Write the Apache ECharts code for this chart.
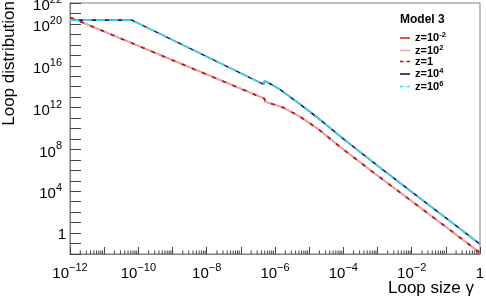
<!DOCTYPE html>
<html>
<head>
<meta charset="utf-8">
<title>Loop distribution</title>
<script src="https://cdn.jsdelivr.net/npm/echarts@6/dist/echarts.min.js"></script>
<style>
html, body { margin: 0; padding: 0; background: #fff; }
#chart { width: 486px; height: 306px; }
</style>
</head>
<body>
<div id="chart"></div>
<script>
// loop size gamma / loop distribution
// upper curve (z=10^4, z=10^6 lie on top of each other)
var gammaHigh = [1e-12, 6.46e-11, 4.68e-7, 4.90e-7, 7.94e-7, 1.26e-6, 1.74e-6, 5.01e-6, 1.66e-5, 1e-4, 1e-3, 1e-2, 0.1, 1];
var nHigh = [2.29e20, 2.29e20, 1.66e14, 3.47e14, 1.58e14, 6.76e13, 3.24e13, 2.51e12, 1.26e11, 1e9, 2.82e6, 8.91e3, 28.2, 0.0891];
// lower curve (z=10^-2, z=10^2, z=1 lie on top of each other)
var gammaLow = [1e-12, 4.90e-7, 5.13e-7, 1e-6, 1.74e-6, 5.01e-6, 1.66e-5, 1e-4, 1e-3, 1e-2, 0.1, 1];
var nLow = [4.27e20, 7.24e12, 3.63e12, 1.86e12, 1e12, 1.58e11, 1.12e10, 1e8, 3.16e5, 1.12e3, 3.98, 0.0132];

var seriesNames = ['z=10^-2', 'z=10^2', 'z=1', 'z=10^4', 'z=10^6'];
var seriesColors = ['#e4242a', '#f5a8ab', '#a01c1c', '#16166a', '#3ddbec'];
var seriesDash = ['solid', 'solid', [4, 7], 'solid', [9, 4]];
var seriesGroup = ['low', 'low', 'low', 'high', 'high'];

// labelled decades
var xLabelExp = [-12, -10, -8, -6, -4, -2, 0];
var yLabelExp = [0, 4, 8, 12, 16, 20, 22];

var FONT = 'Liberation Sans, Arial, Helvetica, sans-serif';
var SOLID_ICON = 'path://M0,0h10v1.6h-10z';
var DASH_ICON = 'path://M0,0h3.5v1.6h-3.5zM6.5,0h3.5v1.6h-3.5z';

function pairs(xs, ys) {
    var out = [];
    for (var i = 0; i < xs.length; i++) {
        out.push([xs[i], ys[i]]);
    }
    return out;
}

function expLabel(e, axis) {
    if (e === 0) {
        return axis === 'y' ? '{one|1}' : '{b|1}';
    }
    var s = e < 0 ? '\u2212' + (-e) : '' + e;
    return '{b|10}{s|' + s + '}';
}

// base number a bit low, exponent a bit high, like the ROOT labels
var labelRich = {
    b: { fontSize: 15, fontFamily: FONT, color: '#000', padding: [6, 0, 0, 0] },
    one: { fontSize: 15, fontFamily: FONT, color: '#000', padding: [3, -4, 0, 0] },
    s: { fontSize: 11, fontFamily: FONT, color: '#000', padding: [0, 0, 6, 0] }
};

// minor ticks 2..9 for every decade on the x axis
var minorX = [];
for (var d = -12; d < 0; d++) {
    for (var k = 2; k <= 9; k++) {
        minorX.push([k * Math.pow(10, d), 1e-2]);
    }
}

var series = [];
for (var i = 0; i < seriesNames.length; i++) {
    var high = seriesGroup[i] === 'high';
    series.push({
        name: seriesNames[i],
        type: 'line',
        data: high ? pairs(gammaHigh, nHigh) : pairs(gammaLow, nLow),
        showSymbol: false,
        symbol: 'none',
        animation: false,
        lineStyle: {
            color: seriesColors[i],
            width: 1.6,
            type: seriesDash[i]
        },
        itemStyle: { color: seriesColors[i] }
    });
}
series.push({
    type: 'custom',
    silent: true,
    animation: false,
    data: minorX,
    renderItem: function (params, api) {
        var p = api.coord([api.value(0), api.value(1)]);
        return {
            type: 'line',
            shape: { x1: p[0], y1: p[1], x2: p[0], y2: p[1] - 3.5 },
            style: { stroke: '#444', lineWidth: 1 }
        };
    }
});

var legendData = [];
for (var j = 0; j < seriesNames.length; j++) {
    legendData.push({
        name: seriesNames[j],
        icon: seriesDash[j] === 'solid' ? SOLID_ICON : DASH_ICON,
        itemStyle: { color: seriesColors[j] }
    });
}

var chart = echarts.init(document.getElementById('chart'));
var option = {
    animation: false,
    backgroundColor: '#fff',
    title: {
        text: 'Model 3',
        left: 400,
        top: 14,
        padding: 0,
        textStyle: { fontFamily: FONT, fontSize: 12, fontWeight: 'bold', color: '#000' }
    },
    legend: {
        data: legendData,
        orient: 'vertical',
        left: 400,
        top: 31,
        padding: 0,
        itemWidth: 10,
        itemHeight: 15,
        itemGap: 0,
        formatter: function (name) {
            var p = name.split('^');
            if (p.length === 1) {
                return '{t|' + name + '}';
            }
            return '{t|' + p[0] + '}{u|' + p[1] + '}';
        },
        textStyle: {
            rich: {
                t: { fontFamily: FONT, fontSize: 11, fontWeight: 'bold', color: '#000' },
                u: { fontFamily: FONT, fontSize: 7.5, fontWeight: 'bold', color: '#000', padding: [0, 0, 6, 0] }
            }
        }
    },
    grid: {
        left: 70,
        right: 6,
        top: 3,
        bottom: 52,
        outerBoundsMode: 'none',
        containLabel: false,
        show: true,
        borderColor: '#808080',
        borderWidth: 1
    },
    xAxis: {
        type: 'log',
        logBase: 10,
        min: 1e-12,
        max: 1,
        interval: 1,
        name: 'Loop size \u03b3',
        nameLocation: 'end',
        nameGap: -6,
        nameMoveOverlap: false,
        nameTextStyle: {
            fontFamily: FONT, fontSize: 17, color: '#000',
            align: 'right', verticalAlign: 'top', padding: [26, 0, 0, 0]
        },
        axisLine: { lineStyle: { color: '#808080', width: 1 } },
        axisTick: { inside: true, length: 7, lineStyle: { color: '#444' } },
        axisLabel: {
            margin: 6,
            showMinLabel: true,
            showMaxLabel: true,
            formatter: function (v) {
                var e = Math.round(Math.log10(v));
                return xLabelExp.indexOf(e) >= 0 ? expLabel(e, 'x') : '';
            },
            rich: labelRich
        },
        splitLine: { show: false }
    },
    yAxis: {
        type: 'log',
        logBase: 10,
        min: 1e-2,
        max: 1e22,
        interval: 1,
        name: 'Loop distribution',
        nameLocation: 'end',
        nameGap: 2,
        nameRotate: 90,
        nameMoveOverlap: false,
        nameTextStyle: {
            fontFamily: FONT, fontSize: 17, color: '#000',
            align: 'right', verticalAlign: 'bottom', padding: [0, 0, 52, 0]
        },
        axisLine: { lineStyle: { color: '#808080', width: 1 } },
        axisTick: { inside: true, length: 11, lineStyle: { color: '#444' } },
        axisLabel: {
            margin: 8,
            showMinLabel: true,
            showMaxLabel: true,
            formatter: function (v) {
                var e = Math.round(Math.log10(v));
                return yLabelExp.indexOf(e) >= 0 ? expLabel(e, 'y') : '';
            },
            rich: labelRich
        },
        splitLine: { show: false }
    },
    series: series
};
chart.setOption(option);
</script>
</body>
</html>
